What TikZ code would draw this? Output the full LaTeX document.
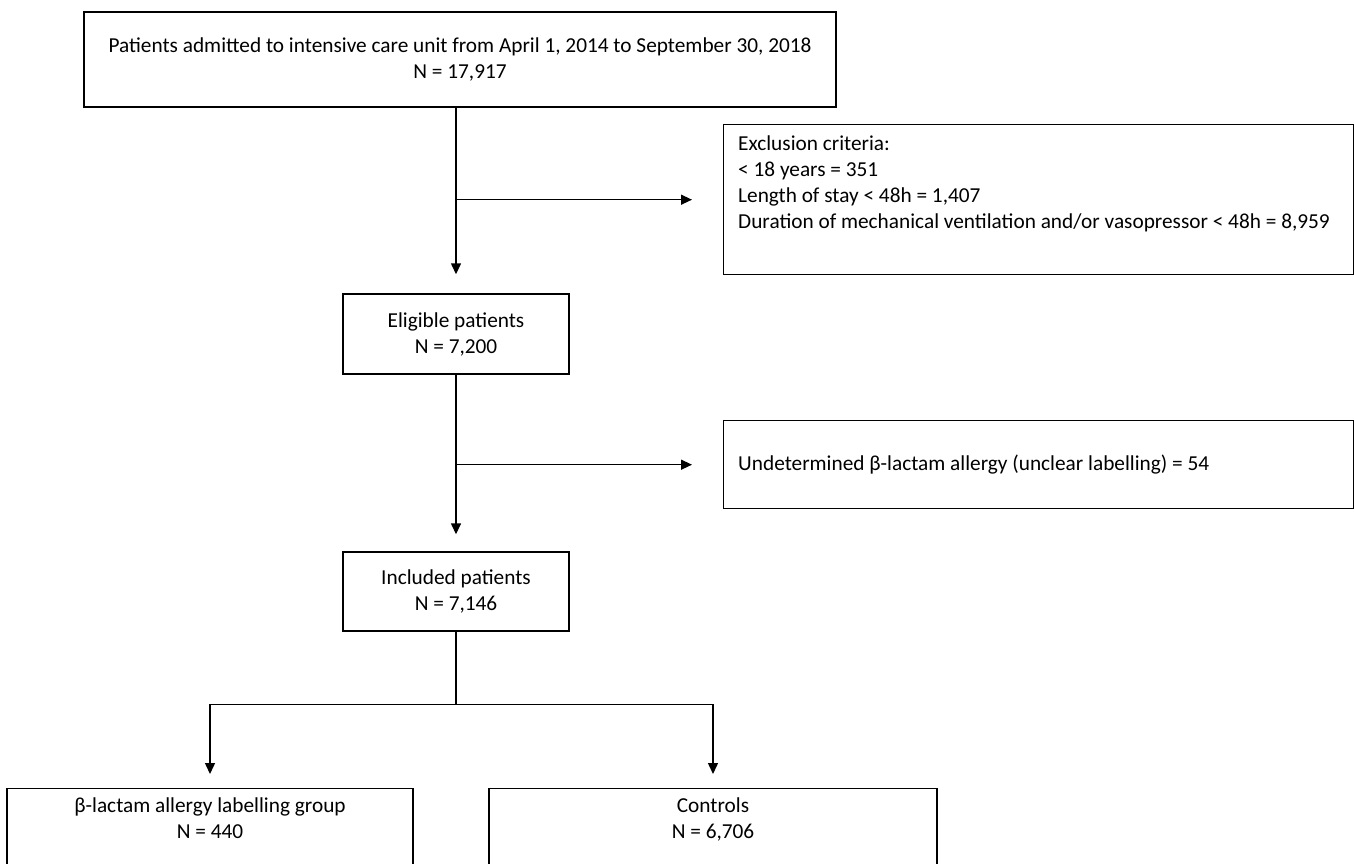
\documentclass[tikz,border=0pt]{standalone}
\usepackage{fontspec}
\setmainfont{Carlito}
\usetikzlibrary{arrows.meta,positioning,calc}

\begin{document}
\begin{tikzpicture}[x=1pt,y=-1pt,>={Triangle[length=11pt,width=10pt]},
  every node/.style={font=\fontsize{21.3}{26}\selectfont,inner sep=0pt},
  box/.style={draw,line width=1.4pt},
  flow/.style={->,line width=1.4pt}]
  \useasboundingbox (0,0) rectangle (1354,864);

  % main column
  \node[box,align=center,minimum width=752,minimum height=95] (adm) at (460,59.5)
    {Patients admitted to intensive care unit from April 1, 2014 to September 30, 2018\\N = 17,917};
  \node[box,align=center,minimum width=226,minimum height=80] (elig) at (456,334)
    {Eligible patients\\N = 7,200};
  \node[box,align=center,minimum width=226,minimum height=79] (incl) at (456,591.5)
    {Included patients\\N = 7,146};

  % exclusion boxes
  \node[box,anchor=north west,minimum width=630,minimum height=150] (excl) at (723,124) {};
  \node[anchor=north west,align=left] (exclt) at ([xshift=15pt,yshift=-12pt]excl.north west)
    {Exclusion criteria:\\< 18 years = 351\\Length of stay < 48h = 1,407\\Duration of mechanical ventilation and/or vasopressor < 48h = 8,959};
  \node[box,anchor=north west,minimum width=630,minimum height=88] (undet) at (723,420) {};
  \node[anchor=west] (undett) at ([xshift=15pt]undet.west)
    {Undetermined β-lactam allergy (unclear labelling) = 54};

  % groups (cut at the bottom edge)
  \node[box,anchor=north,minimum width=406,minimum height=120] (grp) at (210,788) {};
  \node[anchor=north,align=center] (grpt) at ([yshift=-10pt]grp.north)
    {β-lactam allergy labelling group\\N = 440};
  \node[box,anchor=north,minimum width=448,minimum height=120] (ctrl) at (713,788) {};
  \node[anchor=north,align=center] (ctrlt) at ([yshift=-10pt]ctrl.north)
    {Controls\\N = 6,706};

  \coordinate (split) at ($(incl.south)+(0,73)$);

  \draw[flow,shorten >=19pt] (adm.south -| elig.north) -- (elig.north);
  \draw[flow,shorten >=17pt] (elig.south) -- (incl.north);
  \foreach \b in {excl,undet} {
    \draw[flow,shorten >=31pt] (elig.north |- \b.west) -- (\b.west);
  }
  \draw[line width=1.4pt] (incl.south) -- (split);
  \foreach \b in {grp,ctrl} {
    \draw[flow,shorten >=14pt] (split) -| (\b.north);
  }
\end{tikzpicture}
\end{document}
